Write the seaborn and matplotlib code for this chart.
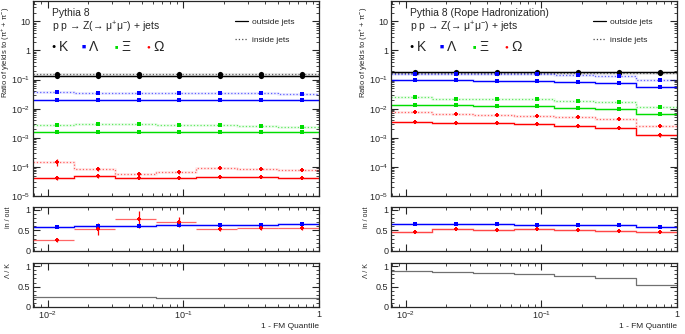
import numpy as np
import matplotlib
matplotlib.use('Agg')
from matplotlib import pyplot as plt
from matplotlib.lines import Line2D
from matplotlib.ticker import FuncFormatter, LogLocator, MultipleLocator, NullFormatter, FixedLocator
import seaborn as sns

# bins in 1 - FM quantile
edges = [1/128, 1/64, 1/32, 1/16, 1/8, 1/4, 1/2, 1.0]

# Pythia 8 (default)
std_k_out = [0.136, 0.136, 0.136, 0.136, 0.136, 0.136, 0.136]
std_k_in = [0.152, 0.152, 0.152, 0.152, 0.152, 0.152, 0.151]
std_lam_out = [0.0205, 0.0205, 0.0205, 0.0205, 0.0205, 0.0205, 0.0205]
std_lam_in = [0.036, 0.035, 0.035, 0.035, 0.035, 0.034, 0.033]
std_xi_out = [0.0016, 0.0016, 0.0016, 0.0016, 0.0016, 0.0016, 0.0016]
std_xi_in = [0.0027, 0.0029, 0.0029, 0.0027, 0.0027, 0.0026, 0.0024]
std_om_out = [4.1e-5, 4.7e-5, 4.3e-5, 4.3e-5, 4.6e-5, 4.6e-5, 4.3e-5]
std_om_in = [1.46e-4, 8.7e-5, 5.7e-5, 6.7e-5, 9.0e-5, 8.7e-5, 8.1e-5]
std_om_in_err = [4.0e-5, 1.5e-5, 1.0e-5, 0.8e-5, 0.8e-5, 0.6e-5, 0.5e-5]
std_om_out_err = [0.6e-5, 0.6e-5, 0.5e-5, 0.4e-5, 0.4e-5, 0.4e-5, 0.3e-5]
std_ratio_lam = [0.58, 0.61, 0.61, 0.62, 0.63, 0.63, 0.65]
std_ratio_om = [0.27, 0.54, 0.77, 0.70, 0.53, 0.57, 0.56]
std_ratio_om_err = [0.05, 0.14, 0.20, 0.12, 0.05, 0.05, 0.05]
std_lam_k = [0.245, 0.235, 0.235, 0.232, 0.230, 0.228, 0.225]

# Pythia 8 (Rope Hadronization)
rope_k_out = [0.18, 0.18, 0.18, 0.18, 0.18, 0.18, 0.18]
rope_k_in = [0.172, 0.172, 0.171, 0.170, 0.170, 0.169, 0.168]
rope_lam_out = [0.097, 0.095, 0.092, 0.090, 0.083, 0.075, 0.057]
rope_lam_in = [0.160, 0.158, 0.155, 0.150, 0.145, 0.133, 0.100]
rope_xi_out = [0.0137, 0.0131, 0.0124, 0.0121, 0.0108, 0.0095, 0.0066]
rope_xi_in = [0.0247, 0.0221, 0.0215, 0.0210, 0.0188, 0.0166, 0.0112]
rope_om_out = [0.0034, 0.0033, 0.0031, 0.0029, 0.0026, 0.0022, 0.0012]
rope_om_in = [0.0075, 0.0064, 0.0061, 0.0058, 0.0052, 0.0043, 0.0025]
rope_om_in_err = [0.0004, 0.0003, 0.0003, 0.0003, 0.0003, 0.0003, 0.0002]
rope_om_out_err = [0.0002, 0.0002, 0.0002, 0.0002, 0.0002, 0.0002, 0.0001]
rope_ratio_lam = [0.65, 0.66, 0.65, 0.64, 0.64, 0.63, 0.585]
rope_ratio_om = [0.45, 0.53, 0.51, 0.54, 0.51, 0.49, 0.45]
rope_ratio_om_err = [0.02, 0.02, 0.02, 0.02, 0.02, 0.02, 0.02]
rope_lam_k = [0.885, 0.853, 0.835, 0.803, 0.762, 0.705, 0.55]

ratio_ticks = [0, 0.5, 1]
ratio_minor = [0.1, 0.2, 0.3, 0.4, 0.6, 0.7, 0.8, 0.9]

C_K = 'black'
C_LAM = '#0000ff'
C_XI = '#00dd00'
C_OM = '#ff0000'

sns.set_style('ticks')
plt.rcParams['font.family'] = ['Liberation Sans', 'DejaVu Sans']
plt.rcParams['mathtext.default'] = 'regular'
plt.rcParams['axes.linewidth'] = 0.9

centers = [(lo + hi) / 2 for lo, hi in zip(edges[:-1], edges[1:])]
halfw = [(hi - lo) / 2 for lo, hi in zip(edges[:-1], edges[1:])]


def step(ax, vals, color, ls='-', alpha=1.0, band=True):
    y = list(vals) + [vals[-1]]
    if band:
        # light band underneath, like the ROOT error band
        sns.lineplot(x=edges, y=y, ax=ax, color=color, lw=2.2, alpha=0.12 * alpha,
                     drawstyle='steps-post', errorbar=None, sort=False)
    sns.lineplot(x=edges, y=y, ax=ax, color=color, lw=0.9, ls=ls, alpha=alpha,
                 drawstyle='steps-post', errorbar=None, sort=False)


def points(ax, vals, color, marker, size):
    sns.scatterplot(x=centers, y=vals, ax=ax, color=color, marker=marker, s=size,
                    linewidth=0, zorder=5)


def log_fmt(v, pos):
    e = int(round(np.log10(v)))
    if e == 0:
        return '1'
    if e == 1:
        return '10'
    return r'$10^{%d}$' % e


def style_axis(ax):
    ax.set_xscale('log')
    ax.set_xlim(edges[0], edges[-1])
    ax.xaxis.set_major_locator(LogLocator(base=10))
    ax.xaxis.set_minor_locator(LogLocator(base=10, subs=np.arange(2, 10)))
    ax.xaxis.set_major_formatter(FuncFormatter(log_fmt))
    ax.xaxis.set_minor_formatter(NullFormatter())
    ax.tick_params(which='both', direction='in', top=True, right=True, labelsize=6.5, pad=2)
    ax.tick_params(which='major', length=5, width=0.8)
    ax.tick_params(which='minor', length=2.5, width=0.6)
    ax.set_xlabel('')
    ax.set_ylabel('')


def ratio_axis(ax, label):
    ax.set_ylim(0, 1.08)
    ax.yaxis.set_major_locator(FixedLocator(ratio_ticks))
    ax.yaxis.set_minor_locator(FixedLocator(ratio_minor))
    ax.yaxis.set_major_formatter(FuncFormatter(lambda v, p: '%g' % v))
    ax.yaxis.set_minor_formatter(NullFormatter())
    ax.set_ylabel(label, fontsize=5, loc='top')
    ax.yaxis.set_label_coords(-0.075, 1.0)


def draw_side(x0, title, d, ratio_bars):
    W, H = 685.0, 334.0
    left = x0 / W
    width = 286 / W
    ax_main = fig.add_axes([left, (H - 196) / H, width, 195 / H])
    ax_rat = fig.add_axes([left, (H - 251) / H, width, 44.5 / H])
    ax_lk = fig.add_axes([left, (H - 307) / H, width, 44 / H])

    # main panel
    step(ax_main, d['k_in'], C_K, ':', 0.6)
    step(ax_main, d['k_out'], C_K)
    step(ax_main, d['lam_in'], C_LAM, ':', 0.6)
    step(ax_main, d['lam_out'], C_LAM)
    step(ax_main, d['xi_in'], C_XI, ':', 0.6)
    step(ax_main, d['xi_out'], C_XI)
    step(ax_main, d['om_in'], C_OM, ':', 0.6)
    step(ax_main, d['om_out'], C_OM)
    for key in ['k_in', 'k_out']:
        points(ax_main, d[key], C_K, 'o', 14)
    for key in ['lam_in', 'lam_out']:
        points(ax_main, d[key], C_LAM, 's', 11)
    for key in ['xi_in', 'xi_out']:
        points(ax_main, d[key], C_XI, 's', 8)
    ax_main.errorbar(centers, d['om_in'], yerr=d['om_in_err'], fmt='none',
                     ecolor=C_OM, elinewidth=0.9, zorder=4)
    ax_main.errorbar(centers, d['om_out'], yerr=d['om_out_err'], fmt='none',
                     ecolor=C_OM, elinewidth=0.9, zorder=4)
    for key in ['om_in', 'om_out']:
        points(ax_main, d[key], C_OM, 'P', 12)

    style_axis(ax_main)
    ax_main.set_yscale('log')
    ax_main.set_ylim(1e-5, 50)
    ax_main.yaxis.set_major_locator(LogLocator(base=10))
    ax_main.yaxis.set_minor_locator(LogLocator(base=10, subs=np.arange(2, 10)))
    ax_main.yaxis.set_major_formatter(FuncFormatter(log_fmt))
    ax_main.yaxis.set_minor_formatter(NullFormatter())
    ax_main.tick_params(labelbottom=False)
    ax_main.set_ylabel(r'Ratio of yields to ($\pi^{+}$ + $\pi^{-}$)', fontsize=5.5, loc='top')
    ax_main.yaxis.set_label_coords(-0.073, 0.97)

    tr = ax_main.transAxes
    ax_main.text(0.066, 0.94, title, transform=tr, fontsize=7.5, va='center')
    ax_main.text(0.066, 0.865, 'p p \u2192 Z(\u2192 $\\mu^{+}\\mu^{-}$) + jets',
                 transform=tr, fontsize=7.5, va='center')
    species = [(0.066, '\u25cf', 5, C_K, 'K'), (0.17, '\u25a0', 5, C_LAM, '\u039b'),
               (0.285, '\u25a0', 4, C_XI, '\u039e'), (0.395, '\u25cf', 4.5, C_OM, '\u03a9')]
    for sx, glyph, gs, col, name in species:
        ax_main.text(sx, 0.765, glyph, transform=tr, fontsize=gs, color=col, va='center')
        ax_main.text(sx + 0.025, 0.765, name, transform=tr, fontsize=10, va='center')

    handles = [Line2D([], [], color='black', lw=0.9),
               Line2D([], [], color='black', lw=0.9, ls=':', alpha=0.7)]
    ax_main.legend(handles, ['outside jets', 'inside jets'], loc='upper left',
                   bbox_to_anchor=(0.68, 0.95), frameon=False, fontsize=6,
                   handlelength=1.6, handletextpad=0.4, labelspacing=1.2)

    # ratio panel
    step(ax_rat, d['ratio_lam'], C_LAM)
    points(ax_rat, d['ratio_lam'], C_LAM, 's', 11)
    if ratio_bars:
        ax_rat.errorbar(centers, d['ratio_om'], xerr=halfw, fmt='none',
                        ecolor=C_OM, elinewidth=0.9, alpha=0.6, zorder=4)
        ax_rat.errorbar(centers, d['ratio_om'], yerr=d['ratio_om_err'], fmt='none',
                        ecolor=C_OM, elinewidth=0.9, zorder=4)
    else:
        step(ax_rat, d['ratio_om'], C_OM, '-', 0.7)
    points(ax_rat, d['ratio_om'], C_OM, 'P', 12)
    style_axis(ax_rat)
    ratio_axis(ax_rat, 'in / out')
    ax_rat.tick_params(labelbottom=False)

    # Lambda / K panel
    step(ax_lk, d['lam_k'], '#707070', band=False)
    style_axis(ax_lk)
    ratio_axis(ax_lk, '\u039b / K')
    ax_lk.set_xlabel('1 - FM Quantile', fontsize=6, loc='right', labelpad=1)


fig = plt.figure(figsize=(6.85, 3.34), dpi=100)

std = dict(k_out=std_k_out, k_in=std_k_in, lam_out=std_lam_out, lam_in=std_lam_in,
           xi_out=std_xi_out, xi_in=std_xi_in, om_out=std_om_out, om_in=std_om_in,
           om_in_err=std_om_in_err, om_out_err=std_om_out_err,
           ratio_lam=std_ratio_lam, ratio_om=std_ratio_om, ratio_om_err=std_ratio_om_err,
           lam_k=std_lam_k)
rope = dict(k_out=rope_k_out, k_in=rope_k_in, lam_out=rope_lam_out, lam_in=rope_lam_in,
            xi_out=rope_xi_out, xi_in=rope_xi_in, om_out=rope_om_out, om_in=rope_om_in,
            om_in_err=rope_om_in_err, om_out_err=rope_om_out_err,
            ratio_lam=rope_ratio_lam, ratio_om=rope_ratio_om, ratio_om_err=rope_ratio_om_err,
            lam_k=rope_lam_k)

draw_side(33, 'Pythia 8', std, True)
draw_side(391, 'Pythia 8 (Rope Hadronization)', rope, False)

fig.savefig('out.png', dpi=100)
